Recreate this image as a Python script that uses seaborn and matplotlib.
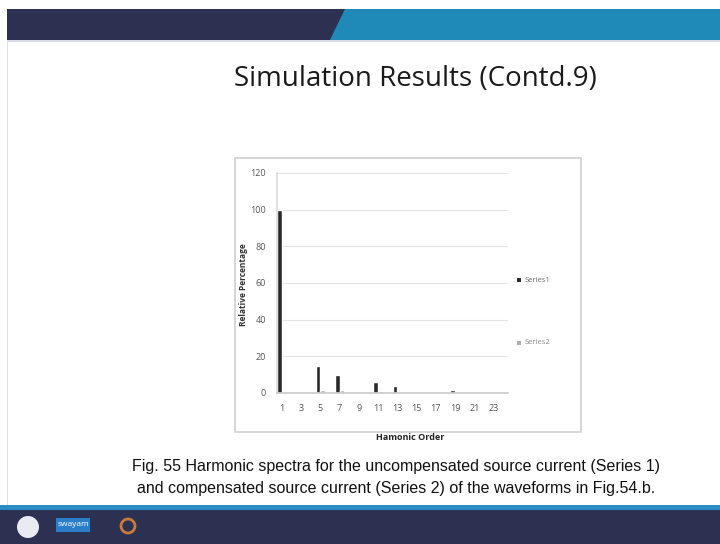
import pandas as pd
import seaborn as sns
import matplotlib.pyplot as plt
from matplotlib.patches import Rectangle, Polygon, Circle

# harmonic orders 1..24
orders = list(range(1, 25))
series1 = [100, 0, 0, 0, 15, 0, 10, 0, 0, 0, 6, 0, 4, 0, 0, 0, 0, 0, 1.5, 0, 0, 0, 0.7, 0]
series2 = [0.8, 0, 0, 0, 1.5, 0, 1.5, 0, 0, 0, 1.0, 0, 0.6, 0, 0, 0, 0, 0, 0.3, 0, 0, 0, 0.2, 0]
tick_labels = [str(o) if o % 2 == 1 else '' for o in orders]

df = pd.DataFrame({
    'order': orders * 2,
    'value': series1 + series2,
    'series': ['Series1'] * len(orders) + ['Series2'] * len(orders),
})

sns.set_theme(style='white')
plt.rcParams['font.family'] = ['Open Sans', 'DejaVu Sans']

W, H = 720, 544
fig = plt.figure(figsize=(7.2, 5.44), dpi=100)

# slide decoration in pixel coordinates
bg = fig.add_axes([0, 0, 1, 1])
bg.set_xlim(0, W)
bg.set_ylim(H, 0)
bg.axis('off')
bg.add_patch(Rectangle((7, 9), 340, 31, color='#2c3152', lw=0))
bg.add_patch(Polygon([[345, 9], [W, 9], [W, 40], [330, 40]], closed=True, color='#1f8ab8', lw=0))
bg.add_patch(Rectangle((7, 40), W, 2, color='#d8dde6', lw=0))
bg.add_patch(Rectangle((7, 40), 1.2, 466, color='#e2e2e2', lw=0))
bg.add_patch(Rectangle((0, 505), W, 5, color='#2a8cc2', lw=0))
bg.add_patch(Rectangle((0, 510), W, 34, color='#2c3152', lw=0))
bg.add_patch(Circle((28, 527), 11, color='#e8ecf2', lw=0))
bg.add_patch(Rectangle((56, 518), 34, 14, color='#2a7fc8', lw=0))
bg.text(73, 525, 'swayam', color='white', fontsize=6, ha='center', va='center')
bg.add_patch(Circle((128, 526), 7, fill=False, ec='#c87a3a', lw=2))
# chart frame
bg.add_patch(Rectangle((235, 158), 346, 274, fill=False, ec='#d0d0d0', lw=1.2))

bg.text(415, 79, 'Simulation Results (Contd.9)', fontsize=20, color='#1a1a1a',
        ha='center', va='center')
cap_font = ['Liberation Sans', 'DejaVu Sans']
bg.text(396, 467, 'Fig. 55 Harmonic spectra for the uncompensated source current (Series 1)',
        fontsize=11.5, ha='center', va='center', color='#111111', family=cap_font)
bg.text(396, 489, 'and compensated source current (Series 2) of the waveforms in Fig.54.b.',
        fontsize=11.5, ha='center', va='center', color='#111111', family=cap_font)

# chart axes
ax = fig.add_axes([277 / W, 1 - 393 / H, (508 - 277) / W, (393 - 173) / H])
sns.barplot(data=df, x='order', y='value', hue='series',
            palette=['#2a2a2a', '#b0b0b0'], width=0.95, ax=ax,
            saturation=1, legend=False)
ax.set_ylim(0, 120)
ax.set_yticks(range(0, 121, 20))
ax.set_xticks(range(len(orders)))
ax.set_xticklabels(tick_labels)
ax.tick_params(axis='both', labelsize=6.5, colors='#555555', length=0, pad=8)
ax.yaxis.grid(True, color='#e4e4e4', lw=0.8)
ax.set_axisbelow(True)
for side in ['top', 'right']:
    ax.spines[side].set_visible(False)
ax.spines['left'].set_color('#dddddd')
ax.spines['bottom'].set_color('#cccccc')
ax.set_xlabel('')
ax.set_ylabel('')
ax.set_facecolor('none')

bg.text(243, 285, 'Relative Percentage', rotation=90, fontsize=6, fontweight='bold',
        color='#333333', ha='center', va='center')
bg.text(410, 438, 'Hamonic Order', fontsize=6.5, fontweight='bold', color='#222222',
        ha='center', va='center')

# legend
bg.add_patch(Rectangle((517, 278), 4, 4, color='#2a2a2a', lw=0))
bg.text(525, 280, 'Series1', fontsize=5.5, color='#666666', va='center')
bg.add_patch(Rectangle((517, 341), 4, 4, color='#b0b0b0', lw=0))
bg.text(525, 343, 'Series2', fontsize=5.5, color='#888888', va='center')

fig.savefig('out.png', dpi=100, facecolor='white')
